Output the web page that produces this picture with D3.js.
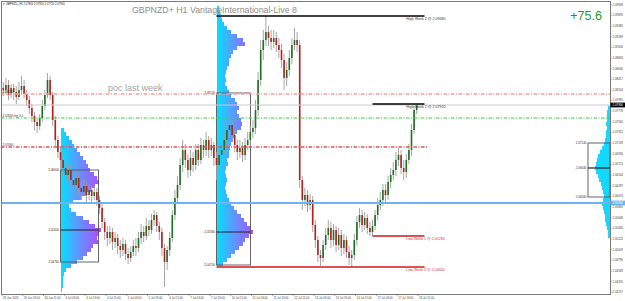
<!DOCTYPE html>
<html>
<head>
<meta charset="utf-8">
<script src="https://cdn.jsdelivr.net/npm/d3@7"></script>
<style>
  html, body { margin: 0; padding: 0; background: #fff; }
  svg { display: block; font-family: "Liberation Sans", Arial, sans-serif; }
</style>
</head>
<body>
<svg id="chart" width="625" height="301"></svg>
<script>
// ---- data (2-hour bars, prices) ----
const symbol = 'GBPNZD+';
const timeframe = 'H1';
const server = 'VantageInternational-Live 8';
const profitText = '+75.6';

const firstOpen = 2.0824;
const closes = [
  2.0820, 2.0830, 2.0810, 2.0824, 2.0816, 2.0806, 2.0820, 2.0828, 2.0812, 2.0800,
  2.0784, 2.0768, 2.0756, 2.0748, 2.0764, 2.0788, 2.0810, 2.0840, 2.0810, 2.0760,
  2.0720, 2.0696, 2.0680, 2.0664, 2.0650, 2.0660, 2.0640, 2.0630, 2.0644, 2.0624,
  2.0616, 2.0628, 2.0610, 2.0620, 2.0608, 2.0616, 2.0600, 2.0584, 2.0556, 2.0536,
  2.0524, 2.0536, 2.0516, 2.0524, 2.0508, 2.0500, 2.0512, 2.0492, 2.0484, 2.0496,
  2.0508, 2.0504, 2.0524, 2.0536, 2.0528, 2.0548, 2.0540, 2.0560, 2.0570, 2.0548,
  2.0536, 2.0504, 2.0476, 2.0500, 2.0524, 2.0570, 2.0604, 2.0630, 2.0670, 2.0700,
  2.0680, 2.0660, 2.0684, 2.0670, 2.0700, 2.0680, 2.0710, 2.0700, 2.0720, 2.0700,
  2.0710, 2.0684, 2.0670, 2.0690, 2.0700, 2.0720, 2.0740, 2.0750, 2.0730, 2.0710,
  2.0696, 2.0704, 2.0690, 2.0710, 2.0720, 2.0736, 2.0744, 2.0780, 2.0840, 2.0900,
  2.0920, 2.0936, 2.0924, 2.0916, 2.0924, 2.0910, 2.0900, 2.0880, 2.0844, 2.0860,
  2.0884, 2.0910, 2.0920, 2.0910, 2.0640, 2.0600, 2.0610, 2.0590, 2.0600, 2.0550,
  2.0520, 2.0490, 2.0484, 2.0510, 2.0530, 2.0544, 2.0520, 2.0540, 2.0510, 2.0530,
  2.0504, 2.0520, 2.0496, 2.0484, 2.0490, 2.0520, 2.0556, 2.0570, 2.0550, 2.0564,
  2.0544, 2.0536, 2.0548, 2.0570, 2.0590, 2.0600, 2.0620, 2.0610, 2.0636, 2.0650,
  2.0660, 2.0680, 2.0690, 2.0664, 2.0656, 2.0680, 2.0700, 2.0740, 2.0780, 2.0790
];
const highs = [
  2.0836, 2.0844, 2.0840, 2.0832, 2.0832, 2.0828, 2.0836, 2.0848, 2.0840, 2.0820,
  2.0808, 2.0792, 2.0776, 2.0764, 2.0772, 2.0800, 2.0820, 2.0854, 2.0848, 2.0816,
  2.0768, 2.0728, 2.0708, 2.0688, 2.0676, 2.0672, 2.0668, 2.0652, 2.0656, 2.0652,
  2.0636, 2.0640, 2.0636, 2.0632, 2.0628, 2.0628, 2.0624, 2.0608, 2.0592, 2.0564,
  2.0548, 2.0548, 2.0544, 2.0536, 2.0532, 2.0520, 2.0524, 2.0520, 2.0504, 2.0508,
  2.0520, 2.0524, 2.0536, 2.0552, 2.0548, 2.0564, 2.0560, 2.0572, 2.0580, 2.0576,
  2.0556, 2.0544, 2.0512, 2.0508, 2.0536, 2.0580, 2.0620, 2.0648, 2.0684, 2.0720,
  2.0712, 2.0692, 2.0700, 2.0696, 2.0712, 2.0712, 2.0724, 2.0720, 2.0736, 2.0728,
  2.0724, 2.0716, 2.0696, 2.0700, 2.0716, 2.0732, 2.0756, 2.0764, 2.0760, 2.0740,
  2.0720, 2.0720, 2.0716, 2.0724, 2.0736, 2.0748, 2.0760, 2.0800, 2.0856, 2.0920,
  2.0940, 2.0968, 2.0948, 2.0940, 2.0940, 2.0936, 2.0924, 2.0912, 2.0892, 2.0876,
  2.0900, 2.0924, 2.0944, 2.0936, 2.0920, 2.0648, 2.0624, 2.0620, 2.0612, 2.0608,
  2.0560, 2.0528, 2.0500, 2.0520, 2.0544, 2.0560, 2.0556, 2.0552, 2.0548, 2.0544,
  2.0540, 2.0532, 2.0528, 2.0508, 2.0500, 2.0532, 2.0568, 2.0584, 2.0580, 2.0576,
  2.0572, 2.0556, 2.0560, 2.0580, 2.0604, 2.0616, 2.0632, 2.0632, 2.0648, 2.0664,
  2.0676, 2.0696, 2.0704, 2.0700, 2.0680, 2.0692, 2.0712, 2.0752, 2.0788, 2.0792
];
const lows = [
  2.0808, 2.0812, 2.0800, 2.0804, 2.0800, 2.0792, 2.0800, 2.0812, 2.0804, 2.0788,
  2.0772, 2.0756, 2.0740, 2.0734, 2.0740, 2.0756, 2.0780, 2.0804, 2.0800, 2.0748,
  2.0708, 2.0684, 2.0660, 2.0648, 2.0636, 2.0636, 2.0624, 2.0616, 2.0620, 2.0610,
  2.0600, 2.0608, 2.0596, 2.0600, 2.0592, 2.0600, 2.0588, 2.0572, 2.0544, 2.0520,
  2.0508, 2.0512, 2.0500, 2.0504, 2.0492, 2.0484, 2.0488, 2.0480, 2.0472, 2.0476,
  2.0488, 2.0488, 2.0496, 2.0512, 2.0516, 2.0520, 2.0528, 2.0532, 2.0548, 2.0536,
  2.0520, 2.0488, 2.0426, 2.0460, 2.0488, 2.0516, 2.0560, 2.0592, 2.0620, 2.0656,
  2.0664, 2.0644, 2.0648, 2.0656, 2.0660, 2.0668, 2.0672, 2.0684, 2.0688, 2.0684,
  2.0688, 2.0668, 2.0640, 2.0656, 2.0680, 2.0692, 2.0708, 2.0724, 2.0716, 2.0696,
  2.0680, 2.0684, 2.0676, 2.0680, 2.0700, 2.0708, 2.0724, 2.0732, 2.0768, 2.0828,
  2.0880, 2.0908, 2.0908, 2.0900, 2.0904, 2.0896, 2.0884, 2.0864, 2.0820, 2.0828,
  2.0848, 2.0872, 2.0900, 2.0896, 2.0624, 2.0580, 2.0588, 2.0576, 2.0580, 2.0536,
  2.0504, 2.0476, 2.0468, 2.0476, 2.0500, 2.0520, 2.0504, 2.0508, 2.0496, 2.0500,
  2.0488, 2.0492, 2.0484, 2.0470, 2.0466, 2.0480, 2.0508, 2.0544, 2.0536, 2.0540,
  2.0532, 2.0528, 2.0528, 2.0540, 2.0560, 2.0580, 2.0588, 2.0596, 2.0600, 2.0624,
  2.0640, 2.0648, 2.0668, 2.0652, 2.0640, 2.0644, 2.0672, 2.0688, 2.0732, 2.0772
];

// bottom axis: one label every 16 hours
const timeLabels = [
  '29 Jun 2023', '29 Jun 19:00', '30 Jun 11:00', '3 Jul 03:00', '3 Jul 19:00',
  '4 Jul 11:00', '5 Jul 03:00', '5 Jul 19:00', '6 Jul 11:00', '7 Jul 03:00',
  '7 Jul 19:00', '10 Jul 11:00', '11 Jul 03:00', '11 Jul 19:00', '12 Jul 11:00',
  '13 Jul 03:00', '13 Jul 19:00', '14 Jul 11:00', '17 Jul 03:00', '17 Jul 19:00',
  '18 Jul 11:00'
];
const priceTicks = [
  2.09908, 2.09695, 2.09482, 2.09269, 2.09056, 2.08843, 2.08630, 2.08417, 2.08204, 2.07991,
  2.07778, 2.07565, 2.07352, 2.07139, 2.06926, 2.06713, 2.06500, 2.06287, 2.06074, 2.05861,
  2.05648, 2.05435, 2.05222, 2.05009, 2.04796, 2.04583, 2.04370, 2.04157
];

// week opens (hours from first bar): 3 Jul, 10 Jul, 17 Jul
const weekStarts = [45, 165, 285];

// weekly volume profiles, one row every 0.0008 from the top price
const profileStep = 0.0008;
const profileTops = [2.0740, 2.0984, 2.0784];
const volA = [3, 5, 8, 11, 13, 16, 19, 22, 25, 27, 29, 33, 36, 38, 34, 30, 26, 20, 12, 8,
  10, 15, 22, 28, 34, 40, 38, 36, 37, 32, 30, 26, 22, 16, 10, 5, 3, 2, 2, 2, 1];
const volB = [2, 3, 4, 5, 7, 10, 14, 20, 26, 28, 20, 16, 14, 12, 12, 10, 9, 8, 9, 8,
  10, 12, 14, 18, 20, 22, 20, 22, 24, 25, 24, 20, 18, 16, 14, 13, 12, 12, 10, 11,
  9, 8, 9, 10, 9, 8, 9, 10, 12, 14, 17, 20, 24, 27, 30, 34, 36, 32, 28, 26,
  22, 18, 14, 10, 6];
const volC = [2, 3, 3, 3, 4, 3, 4, 4, 5, 6, 8, 10, 12, 13, 14, 15, 14, 12, 11, 9,
  8, 7, 6, 7, 8, 7, 6, 5, 5, 4, 3, 2, 2];
const vaHigh = [2.0660, 2.0814, 2.0714];
const vaLow = [2.0476, 2.0470, 2.0606];

// horizontal levels
const pocLastWeek = 2.0812;
const fvgLevel = 2.0764;
const redLevel = 2.0706;
const blueLevel = 2.0594;

// ---- drawing ----
const svg = d3.select('#chart');
const plot = { left: 1, right: 610, top: 1, bottom: 294 };
const fmt = d3.format('.5f');

const x = d3.scaleLinear().domain([0, 320]).range([2, 418]);
const y = d3.scaleLinear().domain([2.1, 2.0398]).range([0, 301]);
const vx = d3.scaleLinear().domain([0, 40]).range([0, 40]);
const rowH = y(0) - y(profileStep);

const candles = closes.map((c, i) => ({
  t: 2 * i + 1,
  o: i === 0 ? firstOpen : closes[i - 1],
  h: highs[i],
  l: lows[i],
  c
}));

const defs = svg.append('defs');
defs.append('clipPath').attr('id', 'plotClip')
  .append('rect')
  .attr('x', plot.left).attr('y', plot.top)
  .attr('width', plot.right - plot.left).attr('height', plot.bottom - plot.top);

function makeGradient(id, x0) {
  const g = defs.append('linearGradient')
    .attr('id', id)
    .attr('gradientUnits', 'userSpaceOnUse')
    .attr('x1', x0).attr('x2', x0 + 40)
    .attr('y1', 0).attr('y2', 0);
  g.append('stop').attr('offset', '0%').attr('stop-color', '#00e2ff');
  g.append('stop').attr('offset', '35%').attr('stop-color', '#4fa4ff');
  g.append('stop').attr('offset', '100%').attr('stop-color', '#b548ff');
}

const chart = svg.append('g').attr('clip-path', 'url(#plotClip)');

// volume profiles
const profiles = [
  { vols: volA, top: profileTops[0], anchor: x(weekStarts[0]), dir: 1, fill: 'url(#gradA)', vah: vaHigh[0], val: vaLow[0] },
  { vols: volB, top: profileTops[1], anchor: x(weekStarts[1]), dir: 1, fill: 'url(#gradB)', vah: vaHigh[1], val: vaLow[1] },
  { vols: volC, top: profileTops[2], anchor: plot.right, dir: -1, fill: '#13d8ff', vah: vaHigh[2], val: vaLow[2] }
];
makeGradient('gradA', profiles[0].anchor);
makeGradient('gradB', profiles[1].anchor);

profiles.forEach(p => {
  chart.append('g')
    .selectAll('rect')
    .data(p.vols)
    .join('rect')
    .attr('x', d => p.dir > 0 ? p.anchor : p.anchor - vx(d))
    .attr('y', (d, k) => y(p.top - k * profileStep) - rowH / 2)
    .attr('width', d => vx(d))
    .attr('height', rowH + 0.2)
    .attr('fill', p.fill)
    .attr('shape-rendering', 'crispEdges');
});

// value-area boxes + POC lines
profiles.forEach((p, idx) => {
  const k = d3.maxIndex(p.vols);
  const poc = p.top - k * profileStep;
  const x0 = p.dir > 0 ? p.anchor : plot.right - 22;
  const x1 = p.dir > 0 ? p.anchor + vx(d3.max(p.vols)) - 2 : plot.right;
  const g = chart.append('g');
  g.append('rect')
    .attr('x', x0).attr('y', y(p.vah))
    .attr('width', x1 - x0).attr('height', y(p.val) - y(p.vah))
    .attr('fill', 'none')
    .attr('stroke', '#555')
    .attr('stroke-width', 0.9);
  g.append('line')
    .attr('x1', x0).attr('x2', x1)
    .attr('y1', y(poc)).attr('y2', y(poc))
    .attr('stroke', '#222')
    .attr('stroke-width', 1.2);
  [p.vah, poc, p.val].forEach(v => {
    g.append('text')
      .attr('x', x0 - 1.5)
      .attr('y', y(v) + 1)
      .attr('text-anchor', 'end')
      .attr('font-size', '3px')
      .attr('fill', '#333')
      .text(fmt(v));
  });
});

// candles
const cg = chart.append('g');
cg.selectAll('line.wick')
  .data(candles)
  .join('line')
  .attr('class', 'wick')
  .attr('x1', d => x(d.t)).attr('x2', d => x(d.t))
  .attr('y1', d => y(d.h)).attr('y2', d => y(d.l))
  .attr('stroke', '#9d9d9d')
  .attr('stroke-width', 0.9);
cg.selectAll('rect.body')
  .data(candles)
  .join('rect')
  .attr('class', 'body')
  .attr('x', d => x(d.t) - 0.8)
  .attr('width', 1.6)
  .attr('y', d => y(Math.max(d.o, d.c)))
  .attr('height', d => Math.max(0.8, Math.abs(y(d.o) - y(d.c))))
  .attr('fill', d => d.c >= d.o ? '#1f6f24' : '#b32020');

// weekly high / low lines
const wk2 = candles.filter(d => d.t >= weekStarts[1] && d.t < weekStarts[2]);
const wk1 = candles.filter(d => d.t >= weekStarts[2]);
const weekLevels = [
  { name: 'High Week 2', v: d3.max(wk2, d => d.h), from: weekStarts[1], color: '#000' },
  { name: 'High Week 1', v: d3.max(wk1, d => d.h), from: weekStarts[2], color: '#000' },
  { name: 'Low Week 1', v: d3.min(wk1, d => d.l), from: weekStarts[2], color: '#d01818' },
  { name: 'Low Week 2', v: d3.min(wk2, d => d.l), from: weekStarts[1], color: '#d01818' }
];

// horizontal indicator levels
const lvl = chart.append('g');
function hLine(v, x0, x1, color, width, dash) {
  lvl.append('line')
    .attr('x1', x0).attr('x2', x1)
    .attr('y1', y(v)).attr('y2', y(v))
    .attr('stroke', color)
    .attr('stroke-width', width)
    .attr('stroke-dasharray', dash || null);
}
const last = candles[candles.length - 1];
hLine(last.c, plot.left, plot.right, '#c6cbd1', 1);
hLine(pocLastWeek, plot.left, plot.right, '#ff9c9c', 1.6, '3.5,1.5,1,1.5');
hLine(fvgLevel, plot.left, plot.right, '#3fcf3f', 1, '3.5,1.5,1,1.5');
hLine(redLevel, plot.left, x(328), '#e35353', 1.3, '3.5,1.5,1,1.5');
hLine(blueLevel, plot.left, plot.right, '#6db5f2', 2);

weekLevels.forEach(w => {
  hLine(w.v, x(w.from), x(325), w.color, 1.6);
  lvl.append('text')
    .attr('x', x(311))
    .attr('y', y(w.v) + 4)
    .attr('font-size', '3.6px')
    .attr('fill', w.color === '#000' ? '#333' : '#e03030')
    .text(`${w.name} @ ${fmt(w.v)}`);
});

// left-side level tags
[[pocLastWeek, fmt(pocLastWeek)], [fvgLevel, fmt(fvgLevel) + ' fvg 0.0'], [redLevel, fmt(redLevel)]]
  .forEach(([v, t]) => {
    lvl.append('text')
      .attr('x', 2.5).attr('y', y(v) - 0.8)
      .attr('font-size', '3px')
      .attr('fill', '#333')
      .text(t);
  });

svg.append('text')
  .attr('x', 108).attr('y', 91)
  .attr('font-size', '9px')
  .attr('fill', '#a3a3a3')
  .text('poc last week');

// frame
svg.append('rect')
  .attr('x', plot.left + 0.5).attr('y', plot.top + 0.5)
  .attr('width', plot.right - plot.left).attr('height', plot.bottom - plot.top)
  .attr('fill', 'none')
  .attr('stroke', '#7a7a7a')
  .attr('stroke-width', 1);

// right price axis
const ax = svg.append('g');
ax.selectAll('text.tick')
  .data(priceTicks)
  .join('text')
  .attr('class', 'tick')
  .attr('x', 612.5)
  .attr('y', d => y(d) + 1)
  .attr('font-size', '2.9px')
  .attr('fill', '#444')
  .text(d => fmt(d));
ax.selectAll('line.tick')
  .data(priceTicks)
  .join('line')
  .attr('class', 'tick')
  .attr('x1', plot.right + 0.5).attr('x2', plot.right + 2)
  .attr('y1', d => y(d)).attr('y2', d => y(d))
  .attr('stroke', '#888').attr('stroke-width', 0.5);

function axisTag(v, bg, fg) {
  ax.append('rect')
    .attr('x', plot.right + 0.5).attr('y', y(v) - 2.4)
    .attr('width', 14.5).attr('height', 4.8)
    .attr('fill', bg);
  ax.append('text')
    .attr('x', 612.5).attr('y', y(v) + 1)
    .attr('font-size', '2.9px')
    .attr('fill', fg)
    .text(fmt(v));
}
axisTag(blueLevel, '#6db5f2', '#fff');
axisTag(last.c, '#000', '#fff');

// bottom time axis
const tg = svg.append('g');
tg.selectAll('line')
  .data(timeLabels)
  .join('line')
  .attr('x1', (d, k) => x(16 * k)).attr('x2', (d, k) => x(16 * k))
  .attr('y1', plot.bottom).attr('y2', plot.bottom + 2)
  .attr('stroke', '#777').attr('stroke-width', 0.6);
tg.selectAll('text')
  .data(timeLabels)
  .join('text')
  .attr('x', (d, k) => x(16 * k) + 1)
  .attr('y', 299)
  .attr('font-size', '2.8px')
  .attr('fill', '#444')
  .text(d => d);

// header, title, profit
svg.append('text')
  .attr('x', 2.5).attr('y', 5)
  .attr('font-size', '2.7px')
  .attr('fill', '#222')
  .text(`\u25BC ${symbol},${timeframe}  ${fmt(last.o)} ${fmt(last.h)} ${fmt(last.l)} ${fmt(last.c)}`);

svg.append('text')
  .attr('x', 132).attr('y', 13.2)
  .attr('font-size', '8.8px')
  .attr('fill', '#8e8e8e')
  .text(`${symbol} ${timeframe} ${server}`);

svg.append('text')
  .attr('x', 602).attr('y', 19.5)
  .attr('text-anchor', 'end')
  .attr('font-size', '12.6px')
  .attr('fill', '#1f9a1f')
  .text(profitText);
</script>
</body>
</html>
